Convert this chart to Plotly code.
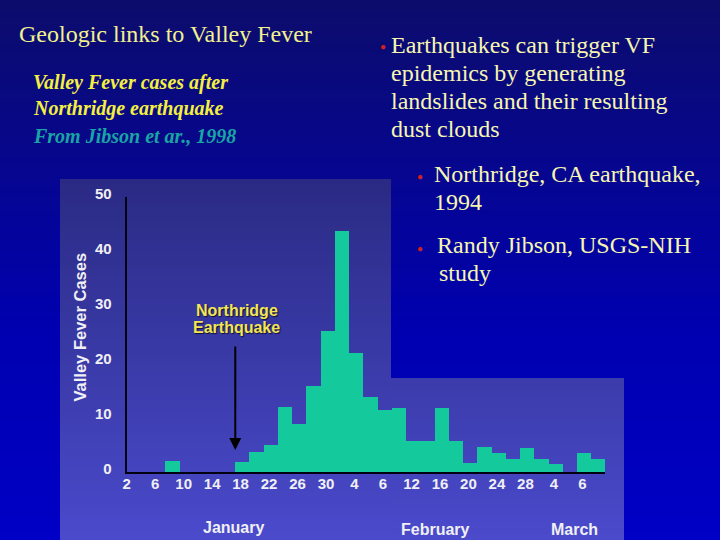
import plotly.graph_objects as go

# ---------------- data ----------------
# bin centre, in days after 2 January 1994 (2-day bins)
bin_day = [6.4, 16.2, 18.2, 20.2, 22.2, 24.2, 26.2, 28.2, 30.2, 32.2, 34.2,
           36.2, 38.2, 40.2, 42.2, 44.2, 46.2, 48.2, 50.2, 52.2, 54.2, 56.2,
           58.2, 60.2, 62.2, 64.2, 66.2]
cases = [2.0, 1.9, 3.7, 4.9, 11.8, 8.8, 15.6, 25.6, 43.9, 21.7, 13.6,
         11.3, 11.6, 5.6, 5.6, 11.7, 5.6, 1.6, 4.6, 3.5, 2.4, 4.4,
         2.4, 1.4, 0.0, 3.5, 2.4]
tick_day = [0, 4, 8, 12, 16, 20, 24, 28, 32, 36, 40, 44, 48, 52, 56, 60, 64]
tick_labels = ["2", "6", "10", "14", "18", "22", "26", "30", "4", "6",
               "12", "16", "20", "24", "28", "4", "6"]
y_ticks = [0, 10, 20, 30, 40, 50]
month_labels = ["January", "February", "March"]
earthquake_day = 15.25

W, H = 720, 540
SERIF = "Liberation Serif, Times New Roman, serif"
SANS = "Liberation Sans, Arial, sans-serif"


def fx(px):
    return px / W


def fy(py):
    return 1 - py / H


def interp(stops, y):
    for (y0, c0), (y1, c1) in zip(stops[:-1], stops[1:]):
        if y0 <= y <= y1:
            t = (y - y0) / (y1 - y0)
            return "rgb(%d,%d,%d)" % tuple(round(a + (b - a) * t) for a, b in zip(c0, c1))
    return "rgb(%d,%d,%d)" % stops[-1][1]


shapes = []
# slide background gradient
slide_stops = [(0, (12, 12, 108)), (200, (5, 5, 150)), (330, (0, 0, 176)), (540, (0, 0, 198))]
step = 6
for y in range(0, H, step):
    shapes.append(dict(type="rect", xref="paper", yref="paper", layer="below",
                       x0=0, x1=1, y0=fy(min(H, y + step + 1)), y1=fy(y),
                       fillcolor=interp(slide_stops, y + step / 2), line=dict(width=0)))
# chart picture background (two pieces)
chart_stops = [(179, (42, 42, 132)), (540, (74, 74, 204))]
pieces = [(60, 391, 179), (391, 624, 378)]
for x0, x1, top in pieces:
    y = top
    while y < H:
        y2 = min(H, y + step)
        shapes.append(dict(type="rect", xref="paper", yref="paper", layer="below",
                           x0=fx(x0), x1=fx(x1), y0=fy(min(H, y2 + 1)), y1=fy(y),
                           fillcolor=interp(chart_stops, (y + y2) / 2), line=dict(width=0)))
        y = y2

fig = go.Figure()
fig.add_trace(go.Bar(x=bin_day, y=cases, width=2.0,
                     marker=dict(color="#14c99c", line=dict(width=0)),
                     showlegend=False, hoverinfo="skip"))

ann = []


def txt(text, x, y, size, color, family=SERIF, xanchor="left", **kw):
    ann.append(dict(text=text, x=fx(x), y=fy(y), xref="paper", yref="paper",
                    xanchor=xanchor, yanchor="middle", showarrow=False,
                    font=dict(family=family, size=size, color=color, **kw)))


# left titles
txt("Geologic links to Valley Fever", 17, 34, 24, "#f2f28e")
txt("Valley Fever cases after", 31, 83, 20, "#f4f040", weight="bold", style="italic")
txt("Northridge earthquake", 31, 109, 20, "#f4f040", weight="bold", style="italic")
txt("From Jibson et ar., 1998", 31, 136, 20, "#1aa4a4", weight="bold", style="italic")

# right bullet text
bullet_col = "#f6f6b0"
for i, line in enumerate(["Earthquakes can trigger VF", "epidemics by generating",
                          "landslides and their resulting", "dust clouds"]):
    txt(line, 389, 45 + i * 28.1, 24, bullet_col)
txt("Northridge, CA earthquake,", 432, 174, 24, bullet_col)
txt("1994", 432, 202, 24, bullet_col)
txt("Randy Jibson, USGS-NIH", 435, 245, 24, bullet_col)
txt("study", 437, 273, 24, bullet_col)
for bx, by in [(383, 47), (420, 176), (420, 248)]:
    txt("●", bx, by, 10, "#d02020", xanchor="center")

# chart texts
lab_col = "#f0f0f4"
txt("Valley Fever Cases", 79, 327.5, 16.5, lab_col, family=SANS, xanchor="center", weight="bold")
ann[-1]["textangle"] = -90
txt(month_labels[0], 233, 527, 16, lab_col, family=SANS, xanchor="center", weight="bold")
txt(month_labels[1], 436, 529, 16, lab_col, family=SANS, xanchor="center", weight="bold")
txt(month_labels[2], 574, 529, 16, lab_col, family=SANS, xanchor="center", weight="bold")
eq_col = "#f2e656"
txt("Northridge", 236.5, 310, 16, eq_col, family=SANS, xanchor="center", weight="bold",
    shadow="1px 1px 1px #101030")
txt("Earthquake", 236.5, 327.5, 16, eq_col, family=SANS, xanchor="center", weight="bold",
    shadow="1px 1px 1px #101030")

# arrow
ann.append(dict(text="", x=earthquake_day, y=4.0, ax=earthquake_day, ay=23.1,
                xref="x", yref="y", axref="x", ayref="y", showarrow=True,
                arrowhead=2, arrowsize=1.2, arrowwidth=2, arrowcolor="#000000",
                standoff=0, startstandoff=0))

fig.update_layout(
    width=W, height=H, autosize=False,
    margin=dict(l=0, r=0, t=0, b=0, pad=0, autoexpand=False),
    paper_bgcolor="#0000b0", plot_bgcolor="rgba(0,0,0,0)",
    bargap=0, shapes=shapes, annotations=ann, showlegend=False,
    xaxis=dict(domain=[fx(126.7), fx(126.7 + 67.2 * 7.12)], range=[0, 67.2],
               tickvals=tick_day, ticktext=tick_labels, showgrid=False, zeroline=False,
               showline=True, linecolor="#000010", linewidth=2, automargin=False,
               ticks="", ticklabelstandoff=-3,
               tickfont=dict(family=SANS, size=15, color=lab_col, weight="bold")),
    yaxis=dict(domain=[fy(472), fy(197)], range=[0, 50], tickvals=y_ticks,
               showgrid=False, zeroline=False, showline=True, linecolor="#000010",
               linewidth=2, ticks="outside", ticklen=10, tickcolor="rgba(0,0,0,0)",
               automargin=False, ticklabelshift=-3,
               tickfont=dict(family=SANS, size=15, color=lab_col, weight="bold")),
)

fig.write_html("out.html", config={"displayModeBar": False},
               post_script="document.body.style.margin='0';document.body.style.overflow='hidden';")
